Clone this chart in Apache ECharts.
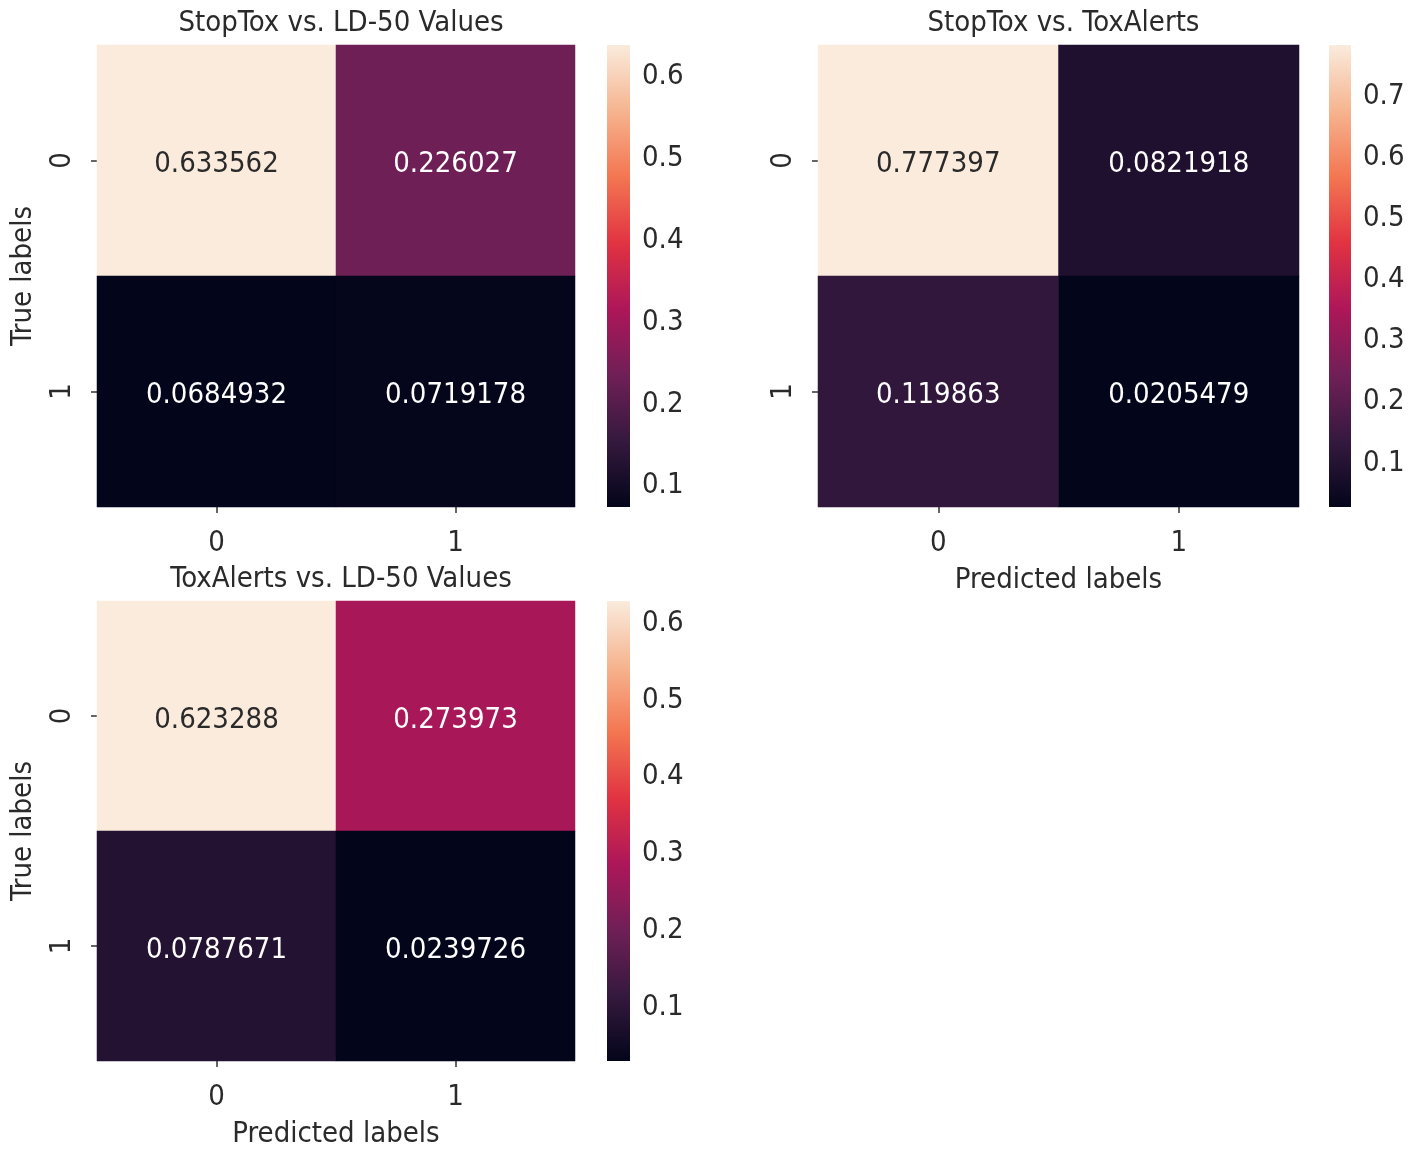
<!DOCTYPE html>
<html>
<head>
<meta charset="utf-8">
<script src="https://cdn.jsdelivr.net/npm/echarts@6/dist/echarts.min.js"></script>
<style>
html,body{margin:0;padding:0;background:#fff;}
#chart{width:1418px;height:1155px;}
</style>
</head>
<body>
<div id="chart"></div>
<script>
// ---- data ----
const xCategories = ['0', '1'];
const yCategories = ['0', '1'];
const titles = ['StopTox vs. LD-50 Values', 'StopTox vs. ToxAlerts', 'ToxAlerts vs. LD-50 Values'];
const matrixA = [[0.633562, 0.226027], [0.0684932, 0.0719178]];
const matrixB = [[0.777397, 0.0821918], [0.119863, 0.0205479]];
const matrixC = [[0.623288, 0.273973], [0.0787671, 0.0239726]];
const ticksA = [0.1, 0.2, 0.3, 0.4, 0.5, 0.6];
const ticksB = [0.1, 0.2, 0.3, 0.4, 0.5, 0.6, 0.7];
const ticksC = [0.1, 0.2, 0.3, 0.4, 0.5, 0.6];
const xAxisNames = ['', 'Predicted labels', 'Predicted labels'];
const yAxisNames = ['True labels', '', 'True labels'];

// ---- style / layout ----
const FONT = '"DejaVu Sans Condensed", "DejaVu Sans"';
const FS = 29;
const TXT = '#2a2a2a';
const rocket = ['#03051A', '#35193E', '#701F57', '#AD1759', '#E13342', '#F37651', '#F6B48F', '#FAEBDD'];
const panels = [
  {m: matrixA, ticks: ticksA, g: {left: 97, top: 45, width: 478, height: 462}, cb: {left: 607, top: 45, width: 23, height: 462}},
  {m: matrixB, ticks: ticksB, g: {left: 818, top: 45, width: 481, height: 462}, cb: {left: 1329, top: 45, width: 22, height: 462}},
  {m: matrixC, ticks: ticksC, g: {left: 97, top: 601, width: 478, height: 460}, cb: {left: 607, top: 601, width: 23, height: 460}}
];

const chart = echarts.init(document.getElementById('chart'));
const option = {
  backgroundColor: '#fff',
  animation: false,
  textStyle: {fontFamily: FONT},
  title: [], grid: [], xAxis: [], yAxis: [], series: [], visualMap: []
};

panels.forEach((p, i) => {
  const flat = p.m.flat();
  const vmin = Math.min(...flat), vmax = Math.max(...flat);
  const data = [];
  p.m.forEach((row, yi) => row.forEach((v, xi) => data.push([xi, yi, v])));

  option.title.push({
    text: titles[i],
    left: p.g.left + p.g.width / 2,
    top: p.g.top - 41,
    textAlign: 'center',
    textStyle: {fontFamily: FONT, fontSize: FS, fontWeight: 'normal', color: TXT}
  });

  // heatmap grid
  option.grid.push(Object.assign({containLabel: false, outerBoundsMode: 'none'}, p.g));
  const gi = option.grid.length - 1;
  option.xAxis.push({
    type: 'category', gridIndex: gi, data: xCategories,
    axisLine: {show: false}, splitArea: {show: false},
    axisTick: {show: true, alignWithLabel: true, length: 6, lineStyle: {color: '#333', width: 1.5}},
    axisLabel: {fontFamily: FONT, fontSize: FS, color: TXT, margin: 22},
    name: xAxisNames[i], nameLocation: 'middle', nameGap: 59,
    nameTextStyle: {fontFamily: FONT, fontSize: FS, color: TXT}
  });
  option.yAxis.push({
    type: 'category', gridIndex: gi, data: yCategories, inverse: true,
    axisLine: {show: false}, splitArea: {show: false},
    axisTick: {show: true, alignWithLabel: true, length: 6, lineStyle: {color: '#333', width: 1.5}},
    axisLabel: {fontFamily: FONT, fontSize: FS, color: TXT, rotate: 90, margin: 20},
    name: yAxisNames[i], nameLocation: 'middle', nameGap: 59, nameRotate: 90,
    nameTextStyle: {fontFamily: FONT, fontSize: FS, color: TXT}
  });
  const hmIndex = option.series.length;
  option.series.push({
    type: 'heatmap', xAxisIndex: gi, yAxisIndex: gi,
    data: data.map(d => ({
      value: d,
      label: {color: (d[2] - vmin) / (vmax - vmin) > 0.6 ? TXT : '#ffffff'}
    })),
    label: {
      show: true, fontFamily: FONT, fontSize: FS, offset: [0, 4],
      formatter: (prm) => String(prm.value[2])
    },
    itemStyle: {borderWidth: 0},
    emphasis: {disabled: true}
  });
  option.visualMap.push({
    type: 'continuous', show: false, seriesIndex: hmIndex, dimension: 2,
    min: vmin, max: vmax, inRange: {color: rocket}
  });

  // colorbar grid
  option.grid.push(Object.assign({containLabel: false, outerBoundsMode: 'none'}, p.cb));
  const ci = option.grid.length - 1;
  option.xAxis.push({type: 'value', gridIndex: ci, min: 0, max: 1, show: false});
  option.yAxis.push({
    type: 'value', gridIndex: ci, min: vmin, max: vmax, position: 'right',
    axisLine: {show: false}, splitLine: {show: false},
    axisTick: {show: true, length: 6, lineStyle: {color: '#333', width: 1.5}, customValues: p.ticks},
    axisLabel: {
      fontFamily: FONT, fontSize: FS, color: TXT, margin: 12, customValues: p.ticks,
      formatter: (v) => '{t|' + v.toFixed(1) + '}',
      rich: {t: {fontFamily: FONT, fontSize: FS, color: TXT, padding: [9, 0, 0, 0]}}
    }
  });
  option.series.push({
    type: 'custom', xAxisIndex: ci, yAxisIndex: ci,
    data: [[0, vmin, vmax]],
    encode: {x: 0, y: [1, 2]},
    silent: true,
    renderItem: (params, api) => {
      const p0 = api.coord([0, api.value(1)]);
      const p1 = api.coord([1, api.value(2)]);
      return {
        type: 'rect',
        shape: {x: p0[0], y: p1[1], width: p1[0] - p0[0], height: p0[1] - p1[1]},
        style: {
          fill: new echarts.graphic.LinearGradient(0, 1, 0, 0,
            rocket.map((c, k) => ({offset: k / (rocket.length - 1), color: c})))
        }
      };
    }
  });
});

chart.setOption(option);
</script>
</body>
</html>
